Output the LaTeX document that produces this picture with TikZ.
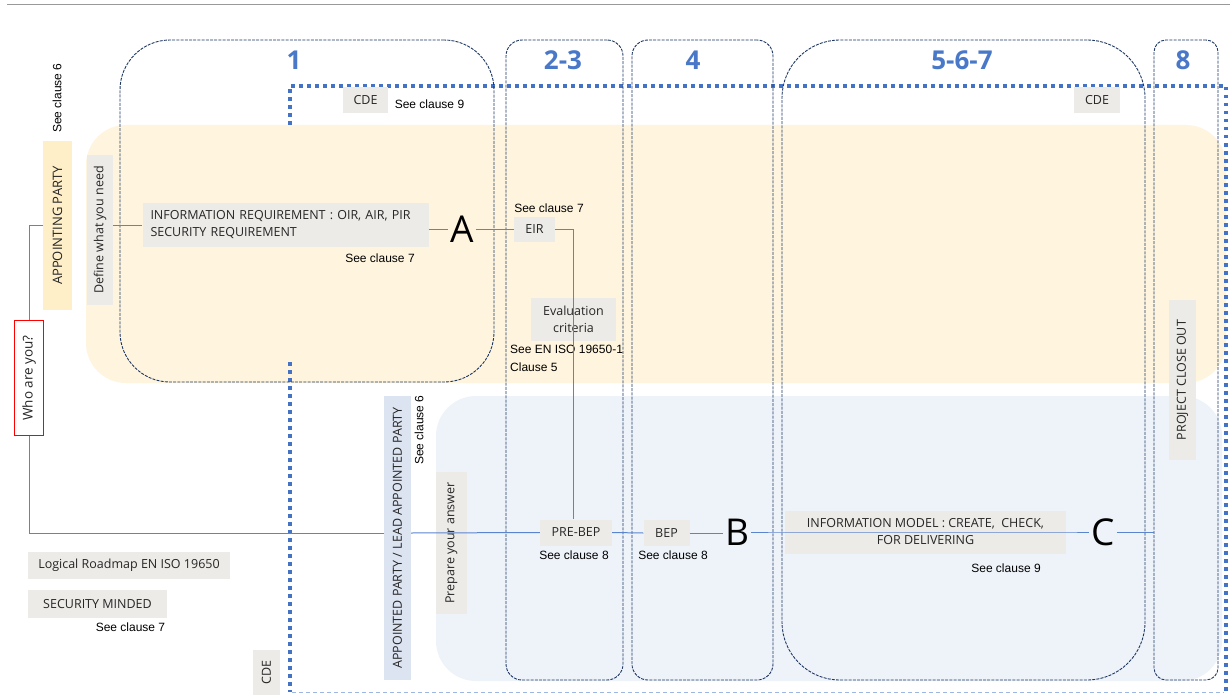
\documentclass[tikz,border=0pt]{standalone}
\usepackage{fontspec}
\setmainfont{Open Sans}
\newfontfamily\arialf{Liberation Sans}
\definecolor{cream}{HTML}{FFF5DF}
\definecolor{paleblue}{HTML}{EEF3FA}
\definecolor{boxgray}{HTML}{EDEBE8}
\definecolor{apyellow}{HTML}{FFEFC8}
\definecolor{apblue}{HTML}{DCE3F1}
\definecolor{navy}{HTML}{1F3864}
\definecolor{linkblue}{HTML}{5B84CF}
\definecolor{cdeblue}{HTML}{4472C4}
\definecolor{cdelight}{HTML}{9DB6E3}
\definecolor{numblue}{HTML}{4A78C8}
\definecolor{numdark}{HTML}{3A64B0}
\definecolor{txt}{HTML}{262626}
\tikzset{
  basefont/.style={font=\fontsize{12.5}{17}\selectfont, text=txt},
  graybox/.style={basefont, fill=boxgray, inner sep=0pt, align=center},
  seetxt/.style={font=\arialf\fontsize{12}{18}\selectfont, inner sep=0pt, text=black},
  colbox/.style={draw=navy, line width=0.9pt, dash pattern=on 3pt off 1.2pt},
  link/.style={draw=linkblue, line width=1pt},
  bigletter/.style={font=\fontsize{37}{37}\selectfont, inner sep=2pt, text=black},
  colnum/.style={font=\bfseries\fontsize{26}{26}\selectfont, text=numblue, inner sep=0pt},
  cdeline/.style={draw=cdeblue, line width=3.5pt, dash pattern=on 3.5pt off 4.5pt}
}
\begin{document}
\begin{tikzpicture}[x=1pt,y=-1pt]
\useasboundingbox (0,0) rectangle (1230,695);
\fill[white] (0,0) rectangle (1230,695);
% top rule
\draw[gray!80, line width=1pt] (7,5) -- (1230,5);
% regions
\fill[cream, rounded corners=40pt] (86,125) rectangle (1226,383);
\fill[paleblue, rounded corners=40pt] (436,396) rectangle (1222,681);
% CDE frame
\draw[cdeline] (290,125) -- (290,86) -- (1226,86) -- (1226,695);
\draw[cdeline] (290,362) -- (290,692);
\draw[cdelight, line width=1pt, dash pattern=on 4pt off 3pt] (292,692) -- (1224,692);
% columns
\node[colbox, minimum width=374pt, minimum height=342pt, rounded corners=50pt] (c1) at (307,211) {};
\node[colbox, minimum width=117pt, minimum height=640pt, rounded corners=16pt] (c23) at (564.5,360) {};
\node[colbox, minimum width=141pt, minimum height=640pt, rounded corners=16pt] (c4) at (702.5,360) {};
\node[colbox, minimum width=363pt, minimum height=640pt, rounded corners=58pt] (c567) at (963.5,360) {};
\node[colbox, minimum width=64pt, minimum height=640pt, rounded corners=12pt] (c8) at (1186,360) {};
% column numbers
\node[colnum] (n1) at (294,60) {1};
\node[colnum] (n23) at (563,60) {2-3};
\node[colnum] (n4) at (693,60) {4};
\node[colnum] (n567) at (962,60) {5-6-7};
\node[colnum] (n8) at (1183,60) {8};
% CDE labels
\node[graybox, minimum width=45pt, minimum height=26pt] (cde1) at (365.5,100) {CDE};
\node[seetxt] (see9a) at (429.5,104) {See clause 9};
\node[graybox, minimum width=46pt, minimum height=26pt] (cde2) at (1097,100) {CDE};
\node[graybox, rotate=90, minimum width=45pt, minimum height=27pt] (cde3) at (266.5,672.5) {CDE};
% left column
\node[seetxt, rotate=90] (see6a) at (57,98) {See clause 6};
\node[basefont, fill=apyellow, inner sep=0pt, rotate=90, minimum width=169pt, minimum height=29pt, font=\fontsize{13}{16}\selectfont] (ap) at (57.5,225.5) {APPOINTING PARTY};
\node[graybox, rotate=90, minimum width=150pt, minimum height=26pt] (define) at (100,230) {Define what you need};
\node[basefont, draw=red, line width=1.6pt, fill=white, inner sep=0pt, rotate=90, minimum width=115pt, minimum height=29pt, font=\fontsize{13.5}{16}\selectfont] (who) at (29,378) {Who are you?};
\node[graybox, minimum width=202pt, minimum height=27pt] (roadmap) at (129,565.5) {Logical Roadmap EN ISO 19650};
\node[graybox, minimum width=139pt, minimum height=28pt] (secmind) at (97.5,604) {SECURITY MINDED};
\node[seetxt] (see7c) at (130.5,627) {See clause 7};
% appointing party row
\node[graybox, text width=270pt, inner xsep=8pt, minimum height=44pt, align=left] (inforeq) at (285.5,225) {INFORMATION REQUIREMENT : OIR, AIR, PIR\\SECURITY REQUIREMENT};
\node[seetxt] (see7a) at (380,258) {See clause 7};
\node[bigletter] (A) at (462,229.5) {A};
\node[seetxt] (see7b) at (549,208) {See clause 7};
\node[graybox, minimum width=41pt, minimum height=25pt] (eir) at (534.5,229.5) {EIR};
\node[graybox, minimum width=85pt, minimum height=43pt] (eval) at (573.5,319.5) {Evaluation\\criteria};
\node[seetxt, anchor=north west, align=left] (seeiso) at (510,345) {See EN ISO 19650-1\\Clause 5};
\node[graybox, rotate=90, minimum width=160pt, minimum height=27pt] (closeout) at (1182.5,380) {PROJECT CLOSE OUT};
% appointed party row
\node[basefont, fill=apblue, inner sep=0pt, rotate=90, minimum width=284pt, minimum height=27pt] (appointed) at (397.5,538) {APPOINTED PARTY / LEAD APPOINTED PARTY};
\node[seetxt, rotate=90] (see6b) at (419,430) {See clause 6};
\node[graybox, rotate=90, minimum width=142pt, minimum height=31pt] (prepare) at (451.5,543) {Prepare your answer};
\node[graybox, minimum width=72pt, minimum height=26pt] (prebep) at (576,532.5) {PRE-BEP};
\node[seetxt] (see8a) at (574,555) {See clause 8};
\node[graybox, minimum width=46pt, minimum height=26pt] (bep) at (666.5,533) {BEP};
\node[seetxt] (see8b) at (673,555) {See clause 8};
\node[bigletter] (B) at (737,532) {B};
\node[graybox, minimum width=281pt, minimum height=43pt] (infomodel) at (925.5,532) {INFORMATION MODEL : CREATE,\ \ CHECK,\\FOR DELIVERING};
\node[seetxt] (see9b) at (1006,568) {See clause 9};
\node[bigletter] (C) at (1103,532) {C};
% connectors
\draw[link] (who.east) |- (ap.north);
\draw[link] (who.west) |- ([yshift=5pt]appointed.north);
\draw[link] (define.south |- inforeq.west) -- (inforeq.west);
\draw[link] (inforeq.east |- A.west) -- (A.west);
\draw[link] (A.east) -- (eir.west);
\draw[link] (eir.east) -| ([xshift=-3pt]prebep.north);
\draw[link] ([yshift=5pt]appointed.south) -- (prebep.west);
\draw[link] (prebep.east) -- (bep.west);
\draw[link] (bep.east) -- (bep.east -| B.west);
\draw[link] (B.east) -- (infomodel.west) -- (infomodel.east) -- (C.west);
\draw[link] (C.east) -- (C.east -| c8.west);
\end{tikzpicture}
\end{document}
